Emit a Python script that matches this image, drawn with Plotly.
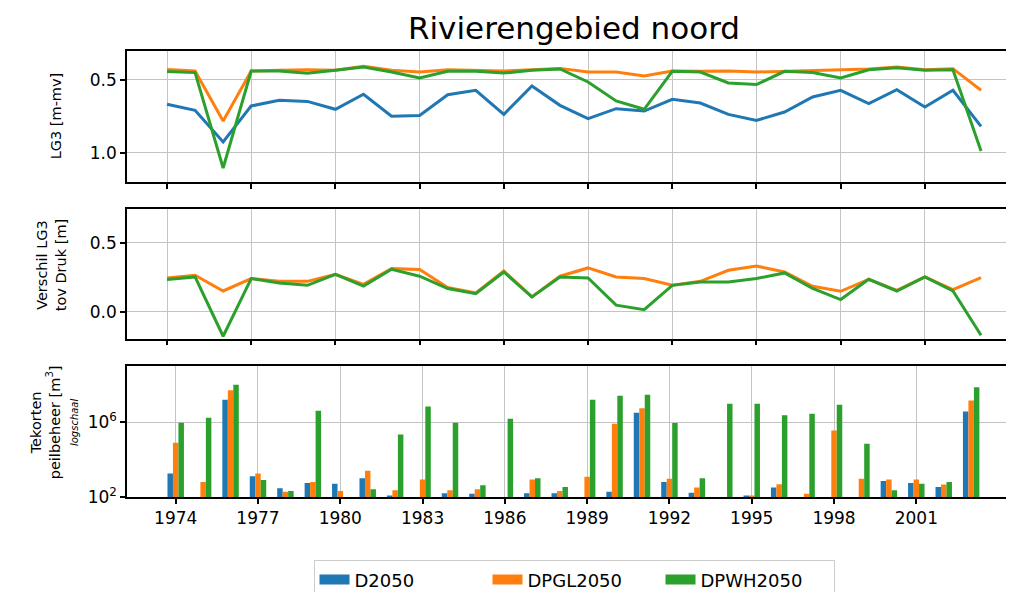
import plotly.graph_objects as go

# jaren
years = list(range(1974, 2004))
tick_years = list(range(1974, 2004, 3))

# LG3 [m-mv]
lg3_d2050 = [0.669, 0.710, 0.927, 0.680, 0.642, 0.649, 0.703, 0.600, 0.751, 0.745,
             0.603, 0.573, 0.738, 0.544, 0.676, 0.767, 0.699, 0.715, 0.635, 0.660,
             0.738, 0.779, 0.722, 0.619, 0.573, 0.664, 0.569, 0.688, 0.573, 0.820]
lg3_dpgl2050 = [0.430, 0.441, 0.783, 0.441, 0.436, 0.432, 0.436, 0.409, 0.436, 0.448,
                0.432, 0.436, 0.441, 0.432, 0.423, 0.448, 0.448, 0.475, 0.441, 0.443,
                0.441, 0.448, 0.443, 0.439, 0.436, 0.427, 0.414, 0.432, 0.425, 0.573]
lg3_dpwh2050 = [0.445, 0.452, 1.105, 0.441, 0.441, 0.457, 0.436, 0.414, 0.448, 0.489,
                0.443, 0.443, 0.455, 0.436, 0.427, 0.516, 0.646, 0.703, 0.443, 0.448,
                0.523, 0.534, 0.443, 0.452, 0.489, 0.432, 0.418, 0.436, 0.432, 0.989]

# verschil LG3 t.o.v. Druk [m]
dif_dpgl2050 = [0.246, 0.266, 0.152, 0.242, 0.222, 0.222, 0.273, 0.200, 0.314, 0.307,
                0.177, 0.138, 0.297, 0.109, 0.259, 0.319, 0.254, 0.242, 0.193, 0.222,
                0.302, 0.333, 0.290, 0.186, 0.150, 0.237, 0.157, 0.254, 0.162, 0.249]
dif_dpwh2050 = [0.235, 0.254, -0.176, 0.242, 0.210, 0.193, 0.273, 0.188, 0.309, 0.259,
                0.170, 0.133, 0.290, 0.109, 0.254, 0.246, 0.049, 0.017, 0.193, 0.217,
                0.217, 0.242, 0.283, 0.170, 0.090, 0.237, 0.152, 0.254, 0.152, -0.169]

# tekorten peilbeheer [m3]
tek_d2050 = [1.8e3, None, 1.55e7, 1.3e3, 290, 560, 510, 1.0e3, 120, None,
             160, 150, None, 160, 160, None, 190, 3.2e6, 630, 170,
             None, 120, 320, None, None, None, 710, 560, 340, 3.7e6]
tek_dpgl2050 = [7.9e4, 630, 5.1e7, 1.8e3, 190, 630, 210, 2.5e3, 230, 870,
                230, 260, None, 870, 210, 1.2e3, 8.1e5, 5.6e6, 950, 320,
                None, 120, 480, 150, 3.6e5, 950, 850, 850, 460, 1.45e7]
tek_dpwh2050 = [9.3e5, 1.7e6, 1.0e8, 810, 210, 4.1e6, None, 260, 2.2e5, 6.9e6,
                9.3e5, 420, 1.5e6, 1.0e3, 340, 1.55e7, 2.6e7, 2.9e7, 8.9e5, 1.0e3,
                9.5e6, 9.5e6, 2.3e6, 2.8e6, 8.5e6, 7.1e4, 230, 510, 630, 7.4e7]

names = ["D2050", "DPGL2050", "DPWH2050"]
colors = ["#1f77b4", "#ff7f0e", "#2ca02c"]
FONT = "DejaVu Sans"

# de pagina zet de figuur 8px naar rechts/onder (body-marge); schermposities corrigeren
OFF = 8
M_L = 127 - OFF
M_T = 50.7 - OFF
M_B = 592 - (496.7 - OFF)
M_R = 0
PW, PH = 1014 - M_L - M_R, 592 - M_T - M_B


def px_x(sx):
    return (sx - OFF - M_L) / PW


def px_y(sy):
    return (592 - M_B - (sy - OFF)) / PH


def dom(top, bottom):
    return [min(max(px_y(bottom), 0.0), 1.0), min(max(px_y(top), 0.0), 1.0)]


fig = go.Figure()

# bovenste paneel: LG3
for name, vals, col in zip(names, [lg3_d2050, lg3_dpgl2050, lg3_dpwh2050], colors):
    fig.add_trace(go.Scatter(x=years, y=vals, mode="lines", name=name,
                             line=dict(color=col, width=3),
                             xaxis="x", yaxis="y", showlegend=False))

# middelste paneel: verschil
for name, vals, col in zip(names[1:], [dif_dpgl2050, dif_dpwh2050], colors[1:]):
    fig.add_trace(go.Scatter(x=years, y=vals, mode="lines", name=name,
                             line=dict(color=col, width=3),
                             xaxis="x2", yaxis="y2", showlegend=False))

# onderste paneel: tekorten (log)
for name, vals, col in zip(names, [tek_d2050, tek_dpgl2050, tek_dpwh2050], colors):
    fig.add_trace(go.Bar(x=years, y=vals, name=name, marker_color=col,
                         marker_line_width=0,
                         xaxis="x3", yaxis="y3", showlegend=False))

# legenda (brede blokjes)
for name, col in zip(names, colors):
    fig.add_trace(go.Scatter(x=[None], y=[None], mode="lines", name=name,
                             line=dict(color=col, width=12),
                             xaxis="x3", yaxis="y3"))

axis_common = dict(showline=True, linecolor="black", linewidth=1.5,
                   ticks="outside", ticklen=5, tickcolor="black", tickwidth=1.5,
                   showgrid=True, gridcolor="#c4c4c4", gridwidth=1.2,
                   zeroline=False, tickfont=dict(family=FONT, size=17, color="black"))
x_common = dict(axis_common, mirror=True)
y_common = dict(axis_common, mirror=False)

# rechterrand van de assen valt buiten beeld (scherm-x 1022)
x_right = 1022
top_range = [1974 - (167 - 127) / 28.07, 1974 + (x_right - 167) / 28.07]
bar_range = [1974 - (175.7 - 127) / 27.43, 1974 + (x_right - 175.7) / 27.43]

fig.update_layout(
    width=1014, height=592,
    margin=dict(l=M_L, r=M_R, t=M_T, b=M_B),
    paper_bgcolor="white", plot_bgcolor="white",
    barmode="group", bargap=0.4, bargroupgap=0,
    font=dict(family=FONT, color="black"),
    title=dict(text="Rivierengebied noord", x=(574 - OFF) / 1014, xref="container",
               xanchor="center", y=1 - (28 - OFF) / 592, yref="container",
               yanchor="middle", font=dict(family=FONT, size=31, color="black")),
    xaxis=dict(domain=[0, 1], range=top_range, tickvals=tick_years,
               showticklabels=False, anchor="y", **x_common),
    xaxis2=dict(domain=[0, 1], range=top_range, tickvals=tick_years,
                showticklabels=False, anchor="y2", **x_common),
    xaxis3=dict(domain=[0, 1], range=bar_range, tickvals=tick_years,
                anchor="y3", **x_common),
    yaxis=dict(domain=dom(50.7, 181.7), range=[1.201, 0.304],
               tickvals=[0.5, 1.0], ticktext=["0.5", "1.0"], anchor="x", **y_common),
    yaxis2=dict(domain=dom(208.3, 338.3), range=[-0.193, 0.749],
                tickvals=[0.0, 0.5], ticktext=["0.0", "0.5"], anchor="x2", **y_common),
    yaxis3=dict(domain=dom(365.7, 496.7), type="log", range=[2, 9],
                tickvals=[1e2, 1e6], ticktext=["10<sup>2</sup>", "10<sup>6</sup>"],
                anchor="x3", **y_common),
    legend=dict(orientation="h", x=px_x(574), xanchor="center", y=px_y(560),
                yanchor="top", bordercolor="#cccccc", borderwidth=1, bgcolor="white",
                entrywidth=128, entrywidthmode="pixels",
                font=dict(family=FONT, size=18, color="black")),
)

# as-titels
ylab_font = dict(family=FONT, size=14.5, color="black")
fig.add_annotation(text="LG3 [m-mv]", x=px_x(56), y=px_y(116),
                   xref="paper", yref="paper", xanchor="center", yanchor="middle",
                   textangle=-90, showarrow=False, font=ylab_font)
fig.add_annotation(text="Verschil LG3<br>tov Druk [m]", x=px_x(51), y=px_y(265),
                   xref="paper", yref="paper", xanchor="center", yanchor="middle",
                   textangle=-90, showarrow=False, font=ylab_font)
fig.add_annotation(text="Tekorten<br>peilbeheer [m<sup>3</sup>]<br>"
                        "<i><span style='font-size:10px'>logschaal</span></i>",
                   x=px_x(54), y=px_y(422), xref="paper", yref="paper",
                   xanchor="center", yanchor="middle", textangle=-90,
                   showarrow=False, font=ylab_font)

fig.write_html("out.html")
